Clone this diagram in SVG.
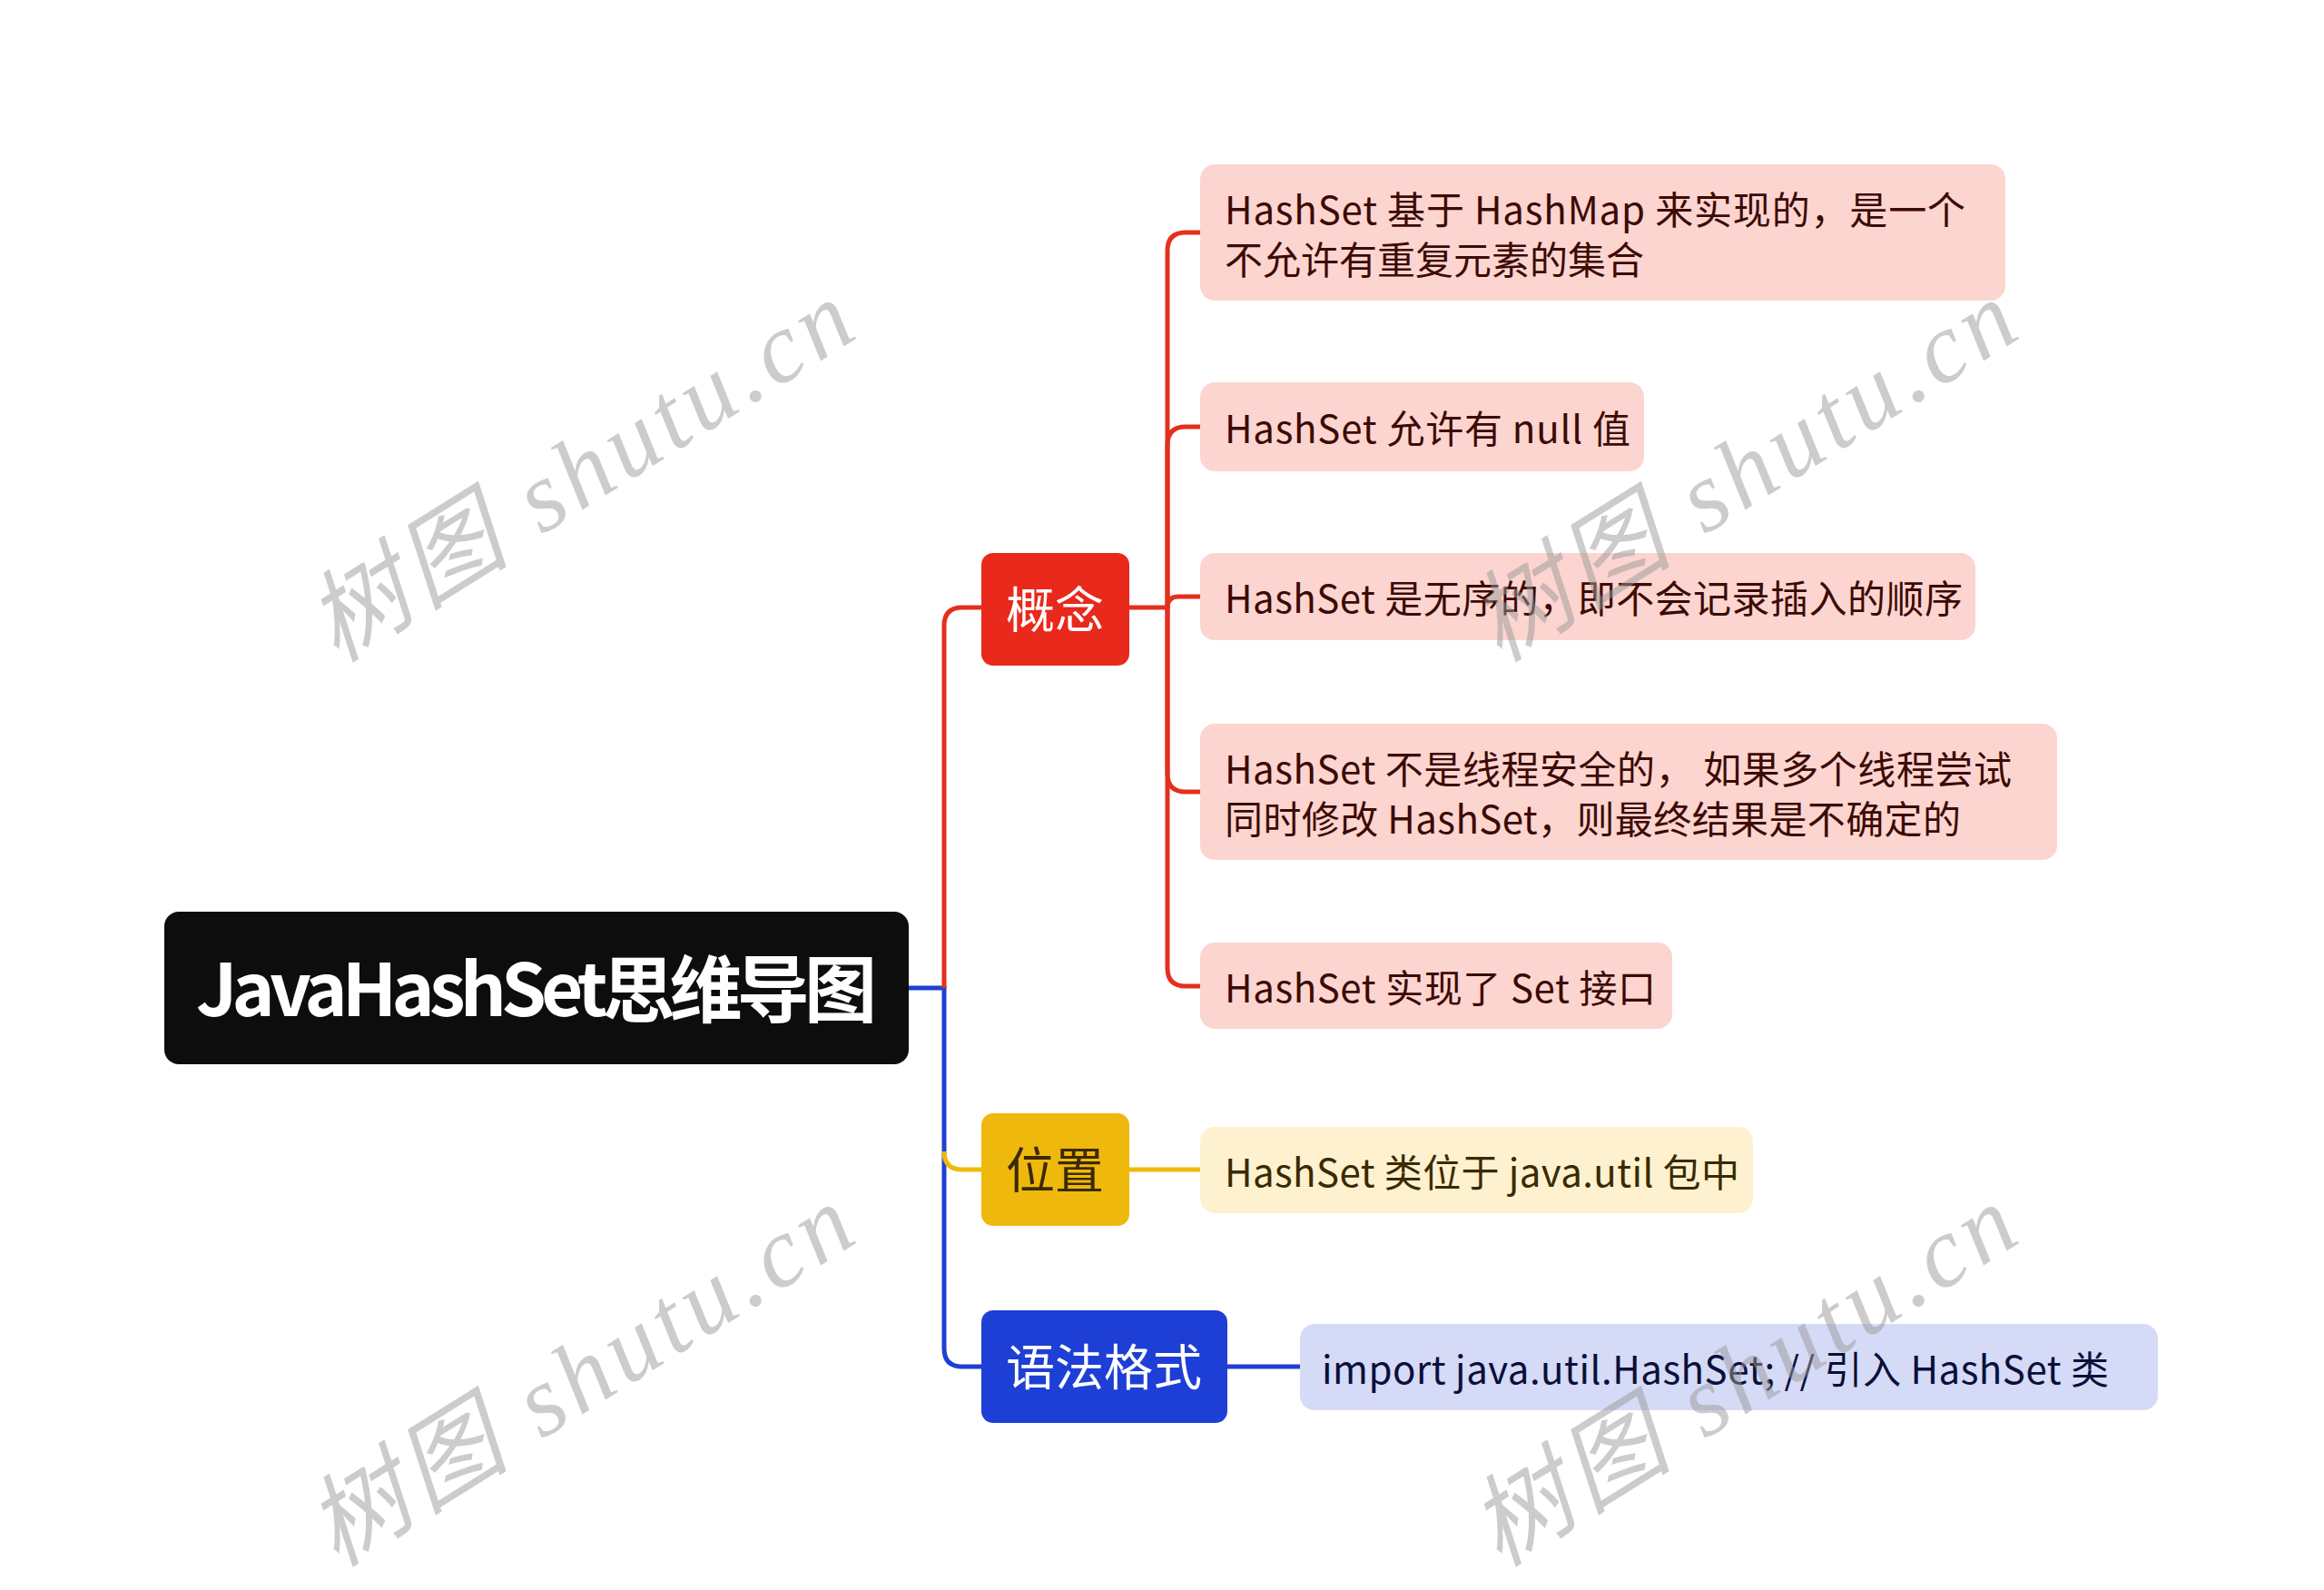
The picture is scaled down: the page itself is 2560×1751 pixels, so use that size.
<svg xmlns="http://www.w3.org/2000/svg" width="2560" height="1751" viewBox="0 0 2560 1751">
<style>
.lk{fill:none;stroke-width:5}
.red{stroke:#e3301f}.yel{stroke:#f0b90b}.blu{stroke:#1f3fd2}
.t{font-family:"Noto Sans CJK SC","Noto Sans",sans-serif}
.leaf{font-size:42px}
.l1{font-size:54px;text-anchor:middle}
.wm{font-family:"Liberation Serif","Noto Sans CJK SC",serif;font-style:italic;font-size:110px;fill:#9a9a9a;opacity:0.5;text-anchor:middle}
</style>
<rect width="2560" height="1751" fill="#ffffff"/>
<g id="connectors">
<path class="lk blu" d="M1001,1088 H1040 V1485 Q1040,1505 1060,1505 H1081"/>
<path class="lk red" d="M1040,1088 V689 Q1040,669 1060,669 H1081"/>
<path class="lk yel" d="M1040,1268 Q1040,1288 1060,1288 H1081"/>
<path class="lk red" d="M1244,669 H1286 V276 Q1286,256 1306,256 H1322"/>
<path class="lk red" d="M1286,669 V490 Q1286,470 1306,470 H1322"/>
<path class="lk red" d="M1286,669 Q1286,657 1298,657 H1322"/>
<path class="lk red" d="M1286,669 V852 Q1286,872 1306,872 H1322"/>
<path class="lk red" d="M1286,669 V1066 Q1286,1086 1306,1086 H1322"/>
<path class="lk yel" d="M1244,1288 H1322"/>
<path class="lk blu" d="M1352,1505 H1432"/>
</g>
<g id="root">
<rect x="181" y="1004" width="820" height="168" rx="16" fill="#0d0d0d"/>
<text class="t" x="591" y="1119" font-size="80" font-weight="bold" fill="#ffffff" text-anchor="middle" textLength="750">JavaHashSet思维导图</text>
</g>
<g id="n-gainian">
<rect x="1081" y="609" width="163" height="124" rx="13" fill="#e8291b"/>
<text class="t l1" x="1162" y="692" fill="#ffffff">概念</text>
</g>
<g id="n-weizhi">
<rect x="1081" y="1226" width="163" height="124" rx="13" fill="#efb80d"/>
<text class="t l1" x="1162" y="1309" fill="#3a2a00">位置</text>
</g>
<g id="n-yufa">
<rect x="1081" y="1443" width="271" height="124" rx="13" fill="#1e3fd6"/>
<text class="t l1" x="1216" y="1526" fill="#ffffff">语法格式</text>
</g>
<g id="leaf1">
<rect x="1322" y="181" width="887" height="150" rx="16" fill="#fcd5d0"/>
<text class="t leaf" x="1349" y="247" fill="#3d0a05" textLength="816">HashSet 基于 HashMap 来实现的，是一个</text>
<text class="t leaf" x="1349" y="302" fill="#3d0a05" textLength="462">不允许有重复元素的集合</text>
</g>
<g id="leaf2">
<rect x="1322" y="421" width="489" height="98" rx="16" fill="#fcd5d0"/>
<text class="t leaf" x="1349" y="488" fill="#3d0a05" textLength="447">HashSet 允许有 null 值</text>
</g>
<g id="leaf3">
<rect x="1322" y="609" width="854" height="96" rx="16" fill="#fcd5d0"/>
<text class="t leaf" x="1349" y="675" fill="#3d0a05" textLength="813">HashSet 是无序的，即不会记录插入的顺序</text>
</g>
<g id="leaf4">
<rect x="1322" y="797" width="944" height="150" rx="16" fill="#fcd5d0"/>
<text class="t leaf" x="1349" y="863" fill="#3d0a05" textLength="867">HashSet 不是线程安全的， 如果多个线程尝试</text>
<text class="t leaf" x="1349" y="918" fill="#3d0a05" textLength="811">同时修改 HashSet，则最终结果是不确定的</text>
</g>
<g id="leaf5">
<rect x="1322" y="1038" width="520" height="95" rx="16" fill="#fcd5d0"/>
<text class="t leaf" x="1349" y="1104" fill="#3d0a05" textLength="475">HashSet 实现了 Set 接口</text>
</g>
<g id="leaf6">
<rect x="1322" y="1241" width="609" height="95" rx="16" fill="#fdf1cf"/>
<text class="t leaf" x="1349" y="1307" fill="#3a2a00" textLength="567">HashSet 类位于 java.util 包中</text>
</g>
<g id="leaf7">
<rect x="1432" y="1458" width="945" height="95" rx="16" fill="#d5daf6"/>
<text class="t leaf" x="1456" y="1524" fill="#0a0f3a" textLength="867">import java.util.HashSet; // 引入 HashSet 类</text>
</g>
<g id="watermarks">
<text class="wm" transform="translate(640,520) rotate(-32)" y="36" textLength="680">树图 shutu.cn</text>
<text class="wm" transform="translate(1921,520) rotate(-32)" y="36" textLength="680">树图 shutu.cn</text>
<text class="wm" transform="translate(640,1516) rotate(-32)" y="36" textLength="680">树图 shutu.cn</text>
<text class="wm" transform="translate(1921,1516) rotate(-32)" y="36" textLength="680">树图 shutu.cn</text>
</g>
</svg>
